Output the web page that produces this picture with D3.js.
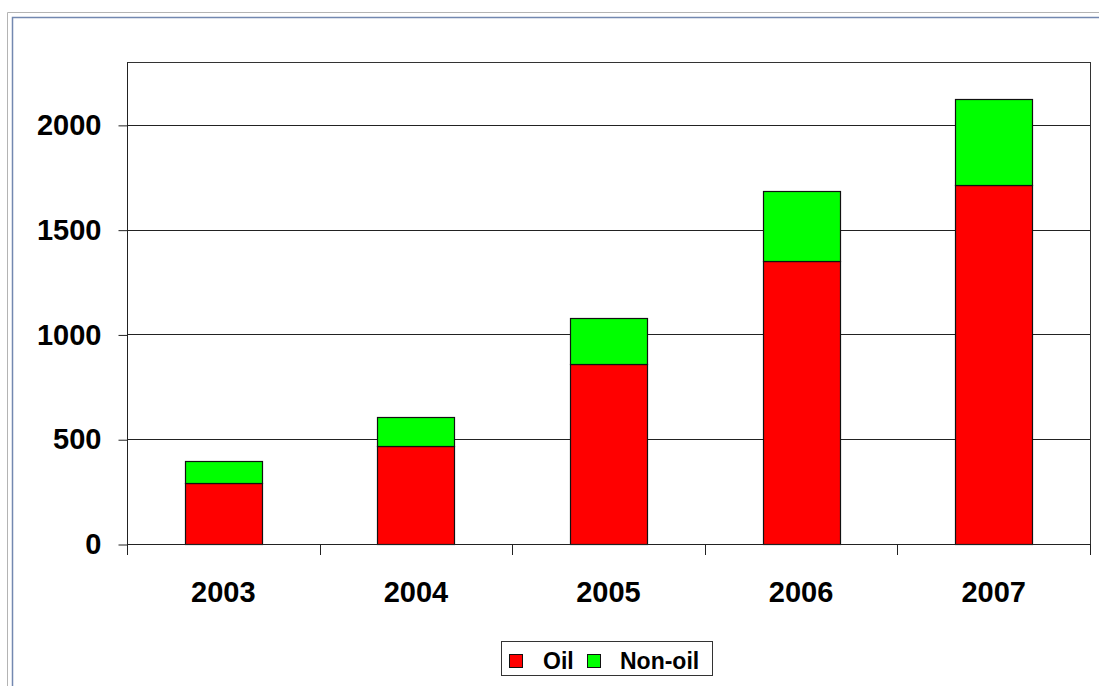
<!DOCTYPE html>
<html>
<head>
<meta charset="utf-8">
<script src="https://cdn.jsdelivr.net/npm/d3@7"></script>
<style>
  html, body { margin: 0; padding: 0; background: #fff; }
  svg { display: block; }
  text { font-family: "Liberation Sans", Arial, sans-serif; font-weight: bold; fill: #000; }
</style>
</head>
<body>
<div id="chart"></div>
<script>
// data
const years = ["2003", "2004", "2005", "2006", "2007"];
const oil = [290, 466, 857, 1350, 1715];
const nonOil = [104, 139, 221, 333, 408];
const yTicks = [0, 500, 1000, 1500, 2000];
const seriesNames = ["Oil", "Non-oil"];
const seriesColors = ["#ff0000", "#00ff00"];

const width = 1099;
const height = 686;

const svg = d3.select("#chart")
  .append("svg")
  .attr("width", width)
  .attr("height", height);

// ---------------------------
// outer frame (gray + blue)
// ---------------------------
svg.append("path")
  .attr("d", `M7.5,${height} V12.5 H${width}`)
  .attr("fill", "none")
  .attr("stroke", "#b4b4b4")
  .attr("stroke-width", 1);
svg.append("path")
  .attr("d", `M12.5,${height} V17.5 H${width}`)
  .attr("fill", "none")
  .attr("stroke", "#7388b0")
  .attr("stroke-width", 1.5);

// ---------------------------
// scales
// ---------------------------
const plot = { left: 127, right: 1090, top: 62, bottom: 544 };

const x = d3.scaleBand()
  .domain(years)
  .range([plot.left, plot.right])
  .paddingInner(0.6)
  .paddingOuter(0.3);

const y = d3.scaleLinear()
  .domain([0, 2300])
  .range([plot.bottom, plot.top]);

// plot frame
svg.append("rect")
  .attr("x", plot.left + 0.5)
  .attr("y", plot.top + 0.5)
  .attr("width", plot.right - plot.left)
  .attr("height", plot.bottom - plot.top)
  .attr("fill", "#fff")
  .attr("stroke", "#333")
  .attr("stroke-width", 1);

// gridlines
svg.append("g")
  .selectAll("line")
  .data(yTicks.filter(d => d > 0))
  .join("line")
  .attr("x1", plot.left)
  .attr("x2", plot.right)
  .attr("y1", d => Math.round(y(d)) + 0.5)
  .attr("y2", d => Math.round(y(d)) + 0.5)
  .attr("stroke", "#222")
  .attr("stroke-width", 1);

// ---------------------------
// stacked bars
// ---------------------------
const rows = years.map((yr, i) => ({ year: yr, Oil: oil[i], "Non-oil": nonOil[i] }));
const stack = d3.stack().keys(seriesNames)(rows);

svg.append("g")
  .selectAll("g")
  .data(stack)
  .join("g")
  .attr("fill", (d, i) => seriesColors[i])
  .selectAll("rect")
  .data(d => d)
  .join("rect")
  .attr("x", d => Math.round(x(d.data.year)) + 0.5)
  .attr("y", d => Math.round(y(d[1])) + 0.5)
  .attr("width", Math.round(x.bandwidth()))
  .attr("height", d => Math.round(y(d[0])) - Math.round(y(d[1])))
  .attr("stroke", "#111")
  .attr("stroke-width", 1.2);

// ---------------------------
// axes
// ---------------------------
const yAxis = d3.axisLeft(y)
  .tickValues(yTicks)
  .tickSize(9)
  .tickPadding(17)
  .tickFormat(d3.format("d"));

const gy = svg.append("g")
  .attr("transform", `translate(${plot.left + 0.5},0.5)`)
  .call(yAxis);
gy.select(".domain").attr("stroke", "#222").attr("d", `M0,${plot.top}V${plot.bottom + 2}`);
gy.selectAll(".tick line").attr("stroke", "#222");
gy.selectAll(".tick text")
  .attr("font-size", 29)
  .attr("font-family", "Liberation Sans, Arial, sans-serif")
  .attr("font-weight", "bold")
  .attr("fill", "#000");

// x axis: ticks at category boundaries
const boundaries = d3.range(years.length + 1).map(i => plot.left + i * (plot.right - plot.left) / years.length);

const gx = svg.append("g");
gx.append("line")
  .attr("x1", plot.left)
  .attr("x2", plot.right)
  .attr("y1", plot.bottom + 0.5)
  .attr("y2", plot.bottom + 0.5)
  .attr("stroke", "#222");
gx.selectAll("line.tick")
  .data(boundaries)
  .join("line")
  .attr("class", "tick")
  .attr("x1", d => Math.round(d) + 0.5)
  .attr("x2", d => Math.round(d) + 0.5)
  .attr("y1", plot.bottom)
  .attr("y2", plot.bottom + 11)
  .attr("stroke", "#222");
gx.selectAll("text")
  .data(years)
  .join("text")
  .attr("x", d => x(d) + x.bandwidth() / 2)
  .attr("y", 602)
  .attr("text-anchor", "middle")
  .attr("font-size", 29)
  .text(d => d);

// ---------------------------
// legend
// ---------------------------
const legend = svg.append("g");
legend.append("rect")
  .attr("x", 501.5)
  .attr("y", 641.5)
  .attr("width", 211)
  .attr("height", 34)
  .attr("fill", "#fff")
  .attr("stroke", "#333");

const legendPos = [
  { sx: 509, tx: 543 },
  { sx: 587, tx: 620 }
];

const item = legend.selectAll("g")
  .data(seriesNames)
  .join("g");

item.append("rect")
  .attr("x", (d, i) => legendPos[i].sx + 0.5)
  .attr("y", 654.5)
  .attr("width", 13)
  .attr("height", 13)
  .attr("fill", (d, i) => seriesColors[i])
  .attr("stroke", "#111");

item.append("text")
  .attr("x", (d, i) => legendPos[i].tx)
  .attr("y", 669)
  .attr("font-size", 23)
  .text(d => d);
</script>
</body>
</html>
